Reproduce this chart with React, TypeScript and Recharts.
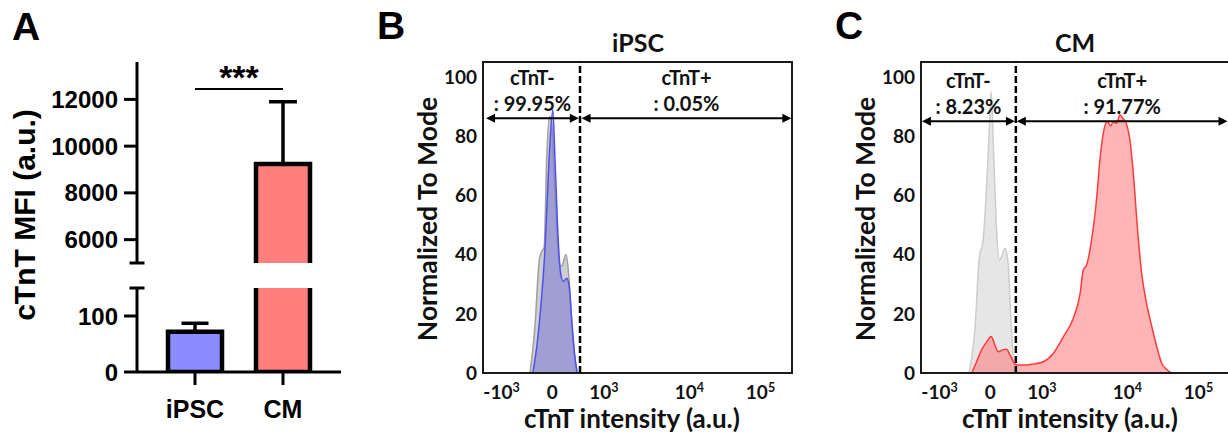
import React from 'react';
import {
  BarChart,
  Bar,
  Cell,
  XAxis,
  YAxis,
  ErrorBar,
  ReferenceLine,
  ReferenceArea,
  ComposedChart,
  Area,
} from 'recharts';

// ---------- panel A: cTnT MFI, mean + SD ----------
const GROUPS = ['iPSC', 'CM'];
const MFI_MEAN = [72, 9240];
const MFI_SD = [15, 2660];
const LOW_TICKS = [0, 100];
const HIGH_TICKS = [6000, 8000, 10000, 12000];
const LOW_TOP = 150; // top of the lower segment
const HIGH_BOTTOM = 5000; // bottom of the upper segment
const HIGH_TOP = 13600;
const SIG_LEVEL = 12450;
const SIG_TEXT = '***';

// ---------- panels B, C: flow histograms (x = display channel 0-100) ----------
const X_TICK_POS = [6, 22.4, 39.1, 66.8, 89.8];
const X_TICK_LABELS = [
  ['-10', '3'],
  ['0', ''],
  ['10', '3'],
  ['10', '4'],
  ['10', '5'],
];
const Y_TICKS = [0, 20, 40, 60, 80, 100];

const IPSC_CONTROL = [
  { ch: 15.2, v: 0 }, { ch: 16.8, v: 15.6 }, { ch: 18.2, v: 38 }, { ch: 19.0, v: 41 },
  { ch: 19.8, v: 42.5 }, { ch: 20.6, v: 72 }, { ch: 21.5, v: 86.6 }, { ch: 22.2, v: 84 },
  { ch: 23.3, v: 60.7 }, { ch: 24.7, v: 37 }, { ch: 25.4, v: 36 }, { ch: 26.9, v: 40 },
  { ch: 27.7, v: 33.7 }, { ch: 28.7, v: 18 }, { ch: 29.8, v: 4.4 }, { ch: 30.5, v: 0 },
];
const IPSC_CTNT = [
  { ch: 16.1, v: 0 }, { ch: 17.4, v: 8.9 }, { ch: 18.8, v: 23.5 }, { ch: 20.1, v: 42.7 },
  { ch: 21.1, v: 66 }, { ch: 22.6, v: 88.9 }, { ch: 23.3, v: 72 }, { ch: 24.4, v: 43.8 },
  { ch: 25.1, v: 33.7 }, { ch: 26.0, v: 30.9 }, { ch: 27.1, v: 32 }, { ch: 27.9, v: 29.2 },
  { ch: 28.7, v: 18 }, { ch: 29.6, v: 6.6 }, { ch: 30.5, v: 0 },
];
const CM_CONTROL = [
  { ch: 15.6, v: 0 }, { ch: 17.5, v: 15.6 }, { ch: 18.9, v: 39.3 }, { ch: 20.0, v: 44 },
  { ch: 21.0, v: 58.4 }, { ch: 21.9, v: 77.6 }, { ch: 22.7, v: 95 }, { ch: 23.4, v: 77.6 },
  { ch: 24.3, v: 51.7 }, { ch: 25.4, v: 38.2 }, { ch: 26.1, v: 39.3 }, { ch: 27.2, v: 42.1 },
  { ch: 28.2, v: 37 }, { ch: 29.0, v: 20 }, { ch: 29.9, v: 4.4 }, { ch: 30.5, v: 0 },
];
const CM_CTNT = [
  { ch: 16.4, v: 0 }, { ch: 18.0, v: 3.8 }, { ch: 19.6, v: 7.8 }, { ch: 21.3, v: 10.6 },
  { ch: 22.7, v: 12.3 }, { ch: 23.9, v: 9.5 }, { ch: 25.0, v: 7.2 }, { ch: 26.4, v: 7.8 },
  { ch: 27.7, v: 8 }, { ch: 28.8, v: 6.1 }, { ch: 29.9, v: 3.8 }, { ch: 31.0, v: 2.7 },
  { ch: 34.2, v: 2.7 }, { ch: 36.3, v: 3 }, { ch: 39.6, v: 3.8 }, { ch: 42.8, v: 6.6 },
  { ch: 46.1, v: 12.3 }, { ch: 49.3, v: 18.5 }, { ch: 51.5, v: 26.9 }, { ch: 52.5, v: 34.8 },
  { ch: 53.6, v: 36.5 }, { ch: 55.2, v: 44.9 }, { ch: 56.9, v: 59.6 }, { ch: 57.9, v: 72 },
  { ch: 59.0, v: 81 }, { ch: 60.3, v: 84.9 }, { ch: 61.4, v: 83.4 }, { ch: 62.2, v: 84.9 },
  { ch: 63.3, v: 84.2 }, { ch: 64.4, v: 87.2 }, { ch: 65.3, v: 86 }, { ch: 66.3, v: 84.6 },
  { ch: 67.6, v: 78.7 }, { ch: 68.7, v: 67.5 }, { ch: 70.0, v: 49.4 }, { ch: 71.4, v: 33.7 },
  { ch: 73.0, v: 23.5 }, { ch: 74.7, v: 15.6 }, { ch: 76.3, v: 8.9 }, { ch: 77.9, v: 3.3 },
  { ch: 79.5, v: 1.2 }, { ch: 81.1, v: 0 },
];

const IPSC_GATES = [
  { from: 1, to: 31, lines: ['cTnT-', ': 99.95%'] },
  { from: 31.9, to: 99.8, lines: ['cTnT+', ': 0.05%'] },
];
const CM_GATES = [
  { from: 0.3, to: 30.4, lines: ['cTnT-', ': 8.23%'] },
  { from: 31, to: 99.2, lines: ['cTnT+', ': 91.77%'] },
];

const ARIAL = '"Liberation Sans", Arial, sans-serif';
const LATO = 'Lato, "Open Sans", sans-serif';
const BAR_FILLS = ['#8c8cff', '#ff7f7f'];

const highRows = GROUPS.map((g, i) => ({
  group: g,
  value: MFI_MEAN[i] > HIGH_BOTTOM ? MFI_MEAN[i] : null,
  err: MFI_MEAN[i] > HIGH_BOTTOM ? [0, MFI_SD[i]] : null,
}));
const lowRows = GROUPS.map((g, i) => ({
  group: g,
  value: Math.min(MFI_MEAN[i], LOW_TOP),
  cut: MFI_MEAN[i] > LOW_TOP,
  err: MFI_MEAN[i] + MFI_SD[i] <= LOW_TOP ? [0, MFI_SD[i]] : null,
}));

// bar outlined in black; edges at an axis break are left open
const BrokenBar = (props: any) => {
  const { x, y, width, height, fill, payload, openBottom } = props;
  if (!height || height <= 0) return null;
  const l = x, r = x + width, t = y, b = y + height;
  let d = `M${l},${t} L${r},${t} L${r},${b} L${l},${b} Z`;
  if (openBottom) d = `M${l},${b} L${l},${t} L${r},${t} L${r},${b}`;
  else if (payload && payload.cut) d = `M${l},${t} L${l},${b} L${r},${b} L${r},${t}`;
  return (
    <g>
      <rect x={l} y={t} width={width} height={height} fill={fill} />
      <path d={d} fill="none" stroke="#000" strokeWidth={4.5} />
    </g>
  );
};

const BreakCap = (props: any) => (
  <line x1={props.x1 - 7.5} x2={props.x1 + 7.5} y1={props.y1} y2={props.y1} stroke="#000" strokeWidth={3} />
);

const aTick = { fontSize: 24, fontWeight: 700, fill: '#000', fontFamily: ARIAL };

function PanelA() {
  return (
    <>
      <div style={{ position: 'absolute', left: 0, top: 0 }}>
        <BarChart width={345} height={265} data={highRows} margin={{ top: 62, right: 4, bottom: 2, left: 0 }}>
          <XAxis dataKey="group" hide padding={{ left: 14, right: 14 }} />
          <YAxis
            type="number"
            domain={[HIGH_BOTTOM, HIGH_TOP]}
            ticks={HIGH_TICKS}
            allowDataOverflow
            interval={0}
            width={137}
            tickSize={13}
            tickMargin={6}
            axisLine={{ stroke: '#000', strokeWidth: 3 }}
            tickLine={{ stroke: '#000', strokeWidth: 3 }}
            tick={aTick}
          />
          <Bar dataKey="value" barSize={54} isAnimationActive={false} shape={(p: any) => <BrokenBar {...p} openBottom />}>
            {highRows.map((r, i) => (
              <Cell key={r.group} fill={BAR_FILLS[i]} />
            ))}
            <ErrorBar dataKey="err" width={14} stroke="#000" strokeWidth={3.5} />
          </Bar>
          <ReferenceLine y={HIGH_BOTTOM} shape={BreakCap} />
          <ReferenceLine
            segment={[{ x: GROUPS[0], y: SIG_LEVEL }, { x: GROUPS[1], y: SIG_LEVEL }]}
            stroke="#000"
            strokeWidth={2}
            label={{ value: SIG_TEXT, position: 'top', offset: 0, fontSize: 34, fontWeight: 700, fill: '#000', fontFamily: ARIAL }}
          />
        </BarChart>
      </div>
      <div style={{ position: 'absolute', left: 0, top: 0 }}>
        <BarChart width={345} height={439} data={lowRows} margin={{ top: 288, right: 4, bottom: 27, left: 0 }}>
          <XAxis
            dataKey="group"
            padding={{ left: 14, right: 14 }}
            height={40}
            tickSize={13}
            tickMargin={15}
            axisLine={{ stroke: '#000', strokeWidth: 3 }}
            tickLine={{ stroke: '#000', strokeWidth: 3 }}
            tick={{ ...aTick, fontSize: 25 }}
          />
          <YAxis
            type="number"
            domain={[0, LOW_TOP]}
            ticks={LOW_TICKS}
            allowDataOverflow
            interval={0}
            width={137}
            tickSize={13}
            tickMargin={6}
            axisLine={{ stroke: '#000', strokeWidth: 3 }}
            tickLine={{ stroke: '#000', strokeWidth: 3 }}
            tick={aTick}
          />
          <Bar dataKey="value" barSize={54} isAnimationActive={false} shape={(p: any) => <BrokenBar {...p} />}>
            {lowRows.map((r, i) => (
              <Cell key={r.group} fill={BAR_FILLS[i]} />
            ))}
            <ErrorBar dataKey="err" width={13.5} stroke="#000" strokeWidth={3.5} />
          </Bar>
          <ReferenceLine y={LOW_TOP} shape={BreakCap} />
        </BarChart>
      </div>
    </>
  );
}

const LogTick = (props: any) => {
  const { x, y, payload } = props;
  const i = X_TICK_POS.indexOf(payload.value);
  const [base, sup] = X_TICK_LABELS[i] || [String(payload.value), ''];
  return (
    <text x={x} y={y + 26} textAnchor="middle" fontFamily={LATO} fontWeight={700} fontSize={19} fill="#111">
      {base}
      {sup ? (
        <tspan dy={-7.5} fontSize={12.5}>
          {sup}
        </tspan>
      ) : null}
    </text>
  );
};

const Arrow = (props: any) => {
  const { x1, y1, x2 } = props;
  const h = 9;
  const w = 4.5;
  return (
    <g>
      <line x1={x1 + 4} x2={x2 - 4} y1={y1} y2={y1} stroke="#000" strokeWidth={2} />
      <path d={`M${x1},${y1} L${x1 + h},${y1 - w} L${x1 + h},${y1 + w} Z`} fill="#000" />
      <path d={`M${x2},${y1} L${x2 - h},${y1 - w} L${x2 - h},${y1 + w} Z`} fill="#000" />
    </g>
  );
};

const gateLabel = (lines: string[]) => (props: any) => {
  const vb = props.viewBox || {};
  const cx = vb.x + (vb.width || 0) / 2;
  const y = vb.y;
  return (
    <text textAnchor="middle" fontFamily={LATO} fontWeight={700} fontSize={20} fill="#111">
      <tspan x={cx} y={y - 33}>{lines[0]}</tspan>
      <tspan x={cx} y={y - 7.5}>{lines[1]}</tspan>
    </text>
  );
};

type FlowProps = {
  left: number;
  control: { ch: number; v: number }[];
  stained: { ch: number; v: number }[];
  ctrlFill: string;
  ctrlStroke: string;
  fill: string;
  fillOpacity: number;
  stroke: string;
  split: number;
  gates: { from: number; to: number; lines: string[] }[];
  arrowY: number;
};

function FlowPanel(p: FlowProps) {
  return (
    <div style={{ position: 'absolute', left: p.left, top: 0 }}>
      <ComposedChart width={420} height={439} margin={{ top: 62, right: 8, bottom: 36, left: 0 }}>
        <XAxis
          type="number"
          dataKey="ch"
          domain={[0, 100]}
          ticks={X_TICK_POS}
          interval={0}
          allowDataOverflow
          height={30}
          tickSize={0}
          tickMargin={0}
          tickLine={false}
          axisLine={false}
          tick={<LogTick />}
        />
        <YAxis
          type="number"
          domain={[0, 105]}
          ticks={Y_TICKS}
          interval={0}
          allowDataOverflow
          width={103}
          tickSize={0}
          tickMargin={6}
          tickLine={false}
          axisLine={false}
          tick={{ fontSize: 19, fontWeight: 700, fill: '#111', fontFamily: LATO }}
        />
        <Area
          data={p.control}
          dataKey="v"
          type="monotone"
          fill={p.ctrlFill}
          fillOpacity={1}
          stroke={p.ctrlStroke}
          strokeWidth={1.5}
          dot={false}
          activeDot={false}
          isAnimationActive={false}
        />
        <Area
          data={p.stained}
          dataKey="v"
          type="monotone"
          fill={p.fill}
          fillOpacity={p.fillOpacity}
          stroke={p.stroke}
          strokeWidth={1.5}
          dot={false}
          activeDot={false}
          isAnimationActive={false}
        />
        <ReferenceLine x={p.split} stroke="#000" strokeWidth={2.5} strokeDasharray="7 3" />
        {p.gates.map((g) => (
          <ReferenceLine
            key={g.lines[0]}
            segment={[{ x: g.from, y: p.arrowY }, { x: g.to, y: p.arrowY }]}
            shape={Arrow}
            label={gateLabel(g.lines)}
          />
        ))}
        <ReferenceArea x1={0} x2={100} y1={0} y2={105} fill="none" stroke="#1a1a1a" strokeWidth={2} ifOverflow="visible" />
      </ComposedChart>
    </div>
  );
}

export default function App() {
  return (
    <div style={{ position: 'fixed', left: 0, top: 0, width: 1228, height: 439, overflow: 'hidden', background: '#fff' }}>
      <PanelA />
      <FlowPanel
        left={380}
        control={IPSC_CONTROL}
        stained={IPSC_CTNT}
        ctrlFill="#cfcfcf"
        ctrlStroke="#a0a0a0"
        fill="#7070d8"
        fillOpacity={0.5}
        stroke="#4f4ff0"
        split={31.4}
        gates={IPSC_GATES}
        arrowY={86}
      />
      <FlowPanel
        left={818}
        control={CM_CONTROL}
        stained={CM_CTNT}
        ctrlFill="#e6e6e6"
        ctrlStroke="#cdcdcd"
        fill="#ff6b6b"
        fillOpacity={0.5}
        stroke="#ff3b3b"
        split={30.7}
        gates={CM_GATES}
        arrowY={85}
      />
      <svg width={1228} height={439} style={{ position: 'absolute', left: 0, top: 0, pointerEvents: 'none' }}>
        <g fontFamily={ARIAL} fontWeight={700} fontSize={39} fill="#000">
          <text x={12} y={40}>A</text>
          <text x={377} y={39}>B</text>
          <text x={835} y={39}>C</text>
        </g>
        <text transform="translate(35,215) rotate(-90)" textAnchor="middle" fontFamily={ARIAL} fontWeight={700} fontSize={30} fill="#000">
          cTnT MFI (a.u.)
        </text>
        <g fontFamily={LATO} fontWeight={700} fill="#111">
          <text x={638} y={52} textAnchor="middle" fontSize={25}>iPSC</text>
          <text x={1075} y={52} textAnchor="middle" fontSize={25}>CM</text>
          <text transform="translate(437,219) rotate(-90)" textAnchor="middle" fontSize={26.5}>Normalized To Mode</text>
          <text transform="translate(875,219) rotate(-90)" textAnchor="middle" fontSize={26.5}>Normalized To Mode</text>
          <text x={632} y={428} textAnchor="middle" fontSize={26}>cTnT intensity (a.u.)</text>
          <text x={1070} y={428} textAnchor="middle" fontSize={26}>cTnT intensity (a.u.)</text>
        </g>
      </svg>
    </div>
  );
}
